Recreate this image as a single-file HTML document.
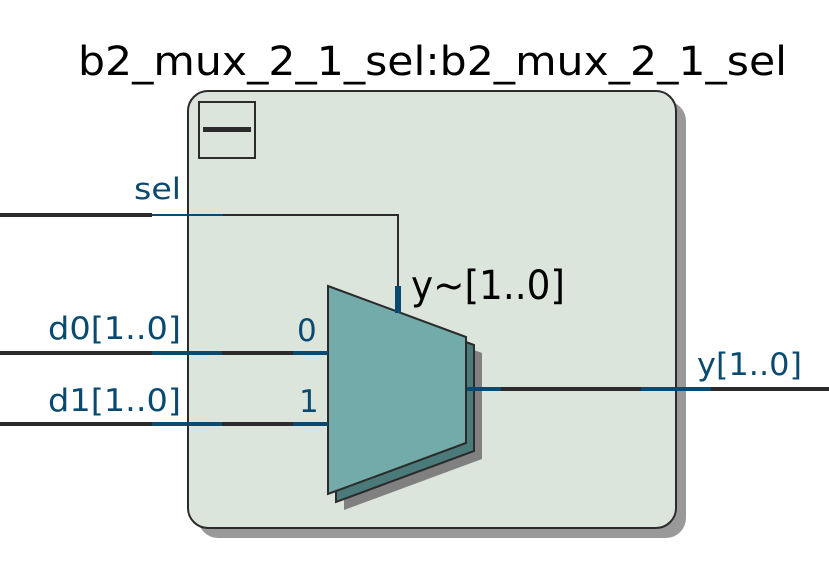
<!DOCTYPE html>
<html><head><style>
body{margin:0;background:#fff;}
svg{display:block;font-family:"DejaVu Sans","Liberation Sans",sans-serif;}
</style></head><body>
<svg width="829" height="574" viewBox="0 0 829 574">
<rect x="198" y="101" width="488" height="437" rx="20" fill="#999"/>
<rect x="188" y="91" width="488" height="437" rx="20" fill="#dce5dc" stroke="#2b2b2b" stroke-width="2"/>
<rect x="199" y="102" width="56" height="56" fill="none" stroke="#2b2b2b" stroke-width="2"/>
<rect x="203" y="127" width="48" height="5" fill="#2b2b2b"/>
<text x="78" y="75" font-size="40" textLength="709" lengthAdjust="spacingAndGlyphs" fill="#000">b2_mux_2_1_sel:b2_mux_2_1_sel</text>
<polygon points="344,302 482,353 482,459 344,510" fill="#808080"/>
<polygon points="336,294 474,345 474,451 336,502" fill="#4a7a7a" stroke="#2b2b2b" stroke-width="2"/>
<polygon points="328,286 466,337 466,443 328,494" fill="#73aaaa" stroke="#2b2b2b" stroke-width="2"/>
<rect x="0" y="213" width="152" height="4" fill="#2b2b2b"/>
<line x1="152" y1="215" x2="223" y2="215" stroke="#0a4a70" stroke-width="2"/>
<polyline points="223,215 398,215 398,290" fill="none" stroke="#2b2b2b" stroke-width="2"/>
<rect x="395" y="286" width="6" height="27" fill="#0a4a70"/>
<text x="134" y="199" font-size="29" textLength="47" lengthAdjust="spacingAndGlyphs" fill="#0a4a70">sel</text>
<text x="411" y="299" font-size="40" textLength="154" lengthAdjust="spacingAndGlyphs" fill="#000">y~[1..0]</text>
<rect x="0" y="351" width="152" height="4" fill="#2b2b2b"/>
<rect x="152" y="351" width="70" height="4" fill="#0a4a70"/>
<rect x="222" y="351" width="71" height="4" fill="#2b2b2b"/>
<rect x="293" y="351" width="35" height="4" fill="#0a4a70"/>
<text x="48" y="339" font-size="31" textLength="133" lengthAdjust="spacingAndGlyphs" fill="#0a4a70">d0[1..0]</text>
<text x="297" y="341" font-size="31" fill="#0a4a70">0</text>
<rect x="0" y="422" width="152" height="4" fill="#2b2b2b"/>
<rect x="152" y="422" width="70" height="4" fill="#0a4a70"/>
<rect x="222" y="422" width="71" height="4" fill="#2b2b2b"/>
<rect x="293" y="422" width="35" height="4" fill="#0a4a70"/>
<text x="48" y="411" font-size="31" textLength="133" lengthAdjust="spacingAndGlyphs" fill="#0a4a70">d1[1..0]</text>
<text x="299" y="412" font-size="31" fill="#0a4a70">1</text>
<rect x="467" y="387" width="34" height="4" fill="#0a4a70"/>
<rect x="501" y="387" width="140" height="4" fill="#2b2b2b"/>
<rect x="641" y="387" width="70" height="4" fill="#0a4a70"/>
<rect x="711" y="387" width="118" height="4" fill="#2b2b2b"/>
<text x="697" y="375" font-size="31" textLength="105" lengthAdjust="spacingAndGlyphs" fill="#0a4a70">y[1..0]</text>
</svg>
</body></html>
